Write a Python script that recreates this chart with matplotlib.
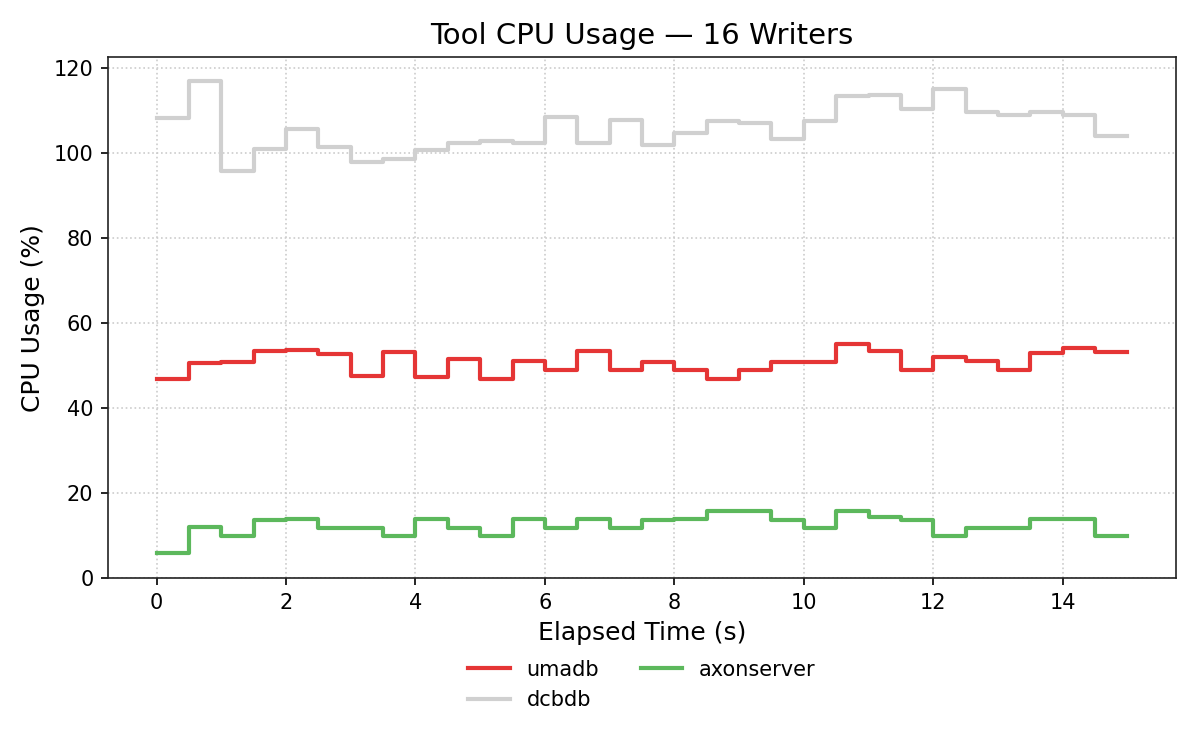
import numpy as np
import matplotlib.pyplot as plt

# elapsed time samples (s), 0.5 s interval
times = [0.0, 0.5, 1.0, 1.5, 2.0, 2.5, 3.0, 3.5, 4.0, 4.5, 5.0, 5.5, 6.0, 6.5, 7.0, 7.5,
         8.0, 8.5, 9.0, 9.5, 10.0, 10.5, 11.0, 11.5, 12.0, 12.5, 13.0, 13.5, 14.0, 14.5, 15.0]

umadb = [46.8, 50.6, 51.0, 53.4, 53.6, 52.7, 47.7, 53.2, 47.3, 51.5, 46.9, 51.2, 48.9, 53.4, 48.9, 51.0,
         49.1, 47.0, 49.1, 51.0, 51.0, 55.1, 53.4, 49.1, 52.0, 51.2, 49.1, 53.0, 54.1, 53.2, 53.2]

dcbdb = [108.3, 117.1, 95.8, 101.1, 105.6, 101.5, 98.0, 98.7, 100.7, 102.5, 103.0, 102.4, 108.6, 102.5, 107.8, 102.0,
         104.8, 107.7, 107.2, 103.3, 107.6, 113.5, 113.8, 110.5, 115.1, 109.6, 109.0, 109.8, 109.1, 104.1, 104.1]

axonserver = [6.0, 12.1, 10.0, 13.7, 14.0, 11.8, 11.8, 10.0, 14.0, 11.8, 10.0, 14.0, 11.8, 14.0, 11.8, 13.8,
              14.0, 15.9, 15.9, 13.7, 11.8, 15.9, 14.3, 13.8, 10.0, 11.8, 11.8, 14.0, 14.0, 10.0, 10.0]

series = [("umadb", umadb, "#e53535"),
          ("dcbdb", dcbdb, "#d0d0d0"),
          ("axonserver", axonserver, "#5cb85c")]

fig, ax = plt.subplots(figsize=(8, 5), dpi=150)
fig.subplots_adjust(left=0.09, right=0.98, top=0.924, bottom=0.229)

for name, vals, col in series:
    ax.step(times, vals, where='post', color=col, linewidth=2.0, label=name)

ax.set_ylim(bottom=0)
ax.set_title("Tool CPU Usage — 16 Writers", fontsize=14)
ax.set_xlabel("Elapsed Time (s)", fontsize=12)
ax.set_ylabel("CPU Usage (%)", fontsize=12)
ax.tick_params(labelsize=10)
ax.grid(True, linestyle=':', color='#cccccc', linewidth=0.8)
for s in ax.spines.values():
    s.set_color('#222222')

ax.legend(loc='upper center', bbox_to_anchor=(0.5, -0.12), ncol=2, frameon=False, fontsize=10)

fig.savefig("out.png", dpi=150)
